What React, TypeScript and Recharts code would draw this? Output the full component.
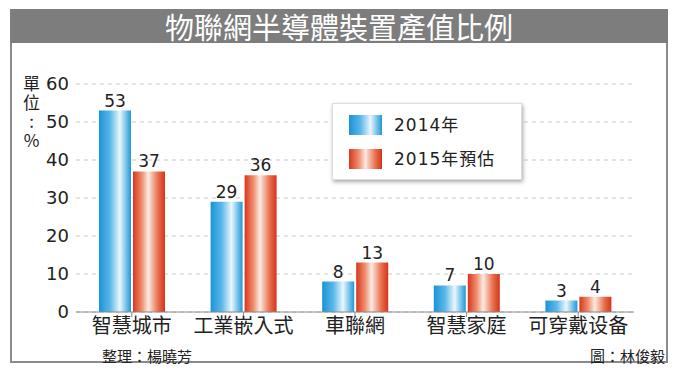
import React from 'react';
import { BarChart, Bar, XAxis, YAxis, CartesianGrid, LabelList, Legend } from 'recharts';

const categories = ['智慧城市', '工業嵌入式', '車聯網', '智慧家庭', '可穿戴设备'];
const values2014 = [53, 29, 8, 7, 3];
const values2015 = [37, 36, 13, 10, 4];
const yTicks = [0, 10, 20, 30, 40, 50, 60];
const seriesNames = ['2014年', '2015年預估'];

const data = categories.map((c, i) => ({ name: c, a: values2014[i], b: values2015[i] }));

const FONT = '"Noto Sans CJK TC", "Noto Sans", sans-serif';
const NUMFONT = '"DejaVu Sans", "Noto Sans CJK TC", sans-serif';

const LegendContent = () => (
  <div style={{
    position: 'relative', width: 190, height: 77, background: '#fff',
    boxShadow: '1px 2px 4px rgba(0,0,0,0.35)', border: '1px solid #ddd', boxSizing: 'border-box',
    fontFamily: NUMFONT, fontSize: 17, color: '#222'
  }}>
    {[0, 1].map(i => (
      <div key={i} style={{ position: 'absolute', left: 16, top: 11 + i * 34, display: 'flex', alignItems: 'center', height: 20 }}>
        <div style={{
          width: 33, height: 20,
          background: i === 0
            ? 'linear-gradient(to right, #1a93d6 0%, #5bb8e8 35%, #e8f6fd 65%, #1f98d8 100%)'
            : 'linear-gradient(to right, #d9361c 0%, #f08f70 30%, #fbe8e0 50%, #e8704f 80%, #d63318 100%)'
        }} />
        <span style={{ marginLeft: 12, letterSpacing: 1, whiteSpace: 'nowrap', lineHeight: '20px' }}>{seriesNames[i]}</span>
      </div>
    ))}
  </div>
);

export default function App() {
  return (
    <div style={{ position: 'fixed', left: 0, top: 0, width: 676, height: 378, background: '#fff', overflow: 'hidden', fontFamily: FONT }}>
      <div style={{ position: 'absolute', left: 10, top: 9, width: 658, height: 34, background: '#7d7d7d', color: '#fff', fontSize: 29, lineHeight: '34px', textAlign: 'center' }}>
        物聯網半導體裝置產值比例
      </div>
      <div style={{ position: 'absolute', left: 10, top: 43, width: 658, height: 320, border: '2px solid #8a8a8a', borderTop: 'none', boxSizing: 'border-box', background: '#fff' }} />
      <div style={{ position: 'absolute', left: 20, top: 75, width: 22, fontSize: 17, lineHeight: '22px', color: '#222', writingMode: 'vertical-rl', textOrientation: 'upright', letterSpacing: 2 }}>
        單位:%
      </div>
      <div style={{ position: 'absolute', left: 102, top: 345, fontSize: 15, color: '#222' }}>整理：楊曉芳</div>
      <div style={{ position: 'absolute', left: 590, top: 345, fontSize: 15, color: '#222' }}>圖：林俊毅</div>
      <div style={{ position: 'absolute', left: 0, top: 0 }}>
        <BarChart width={676} height={378} data={data} margin={{ top: 84, right: 42, left: 0, bottom: 36 }} barGap={2} barSize={32}>
          <defs>
            <linearGradient id="gBlue" x1="0" y1="0" x2="1" y2="0">
              <stop offset="0%" stopColor="#1a93d6" />
              <stop offset="35%" stopColor="#5bb8e8" />
              <stop offset="65%" stopColor="#eaf7fd" />
              <stop offset="100%" stopColor="#1f98d8" />
            </linearGradient>
            <linearGradient id="gRed" x1="0" y1="0" x2="1" y2="0">
              <stop offset="0%" stopColor="#d9361c" />
              <stop offset="28%" stopColor="#f08f70" />
              <stop offset="48%" stopColor="#fcebe3" />
              <stop offset="78%" stopColor="#e8704f" />
              <stop offset="100%" stopColor="#d63318" />
            </linearGradient>
          </defs>
          <CartesianGrid vertical={false} stroke="#c8c8c8" strokeDasharray="4 4" />
          <XAxis dataKey="name" height={30} axisLine={{ stroke: '#888' }} tickLine={{ stroke: '#888' }} tickSize={5}
            tick={{ fontSize: 20, fill: '#222', fontFamily: FONT }} interval={0} />
          <YAxis width={76} domain={[0, 60]} ticks={yTicks} axisLine={false} tickLine={false} tickMargin={1}
            tick={{ fontSize: 18, fill: '#222', fontFamily: NUMFONT }} />
          <Legend layout="vertical" align="center" verticalAlign="middle" content={<LegendContent />}
            wrapperStyle={{ position: 'absolute', left: 332, top: 103, width: 190, height: 77, bottom: 'auto', right: 'auto' }} />
          <Bar dataKey="a" name={seriesNames[0]} fill="url(#gBlue)" isAnimationActive={false}>
            <LabelList dataKey="a" position="top" offset={4} style={{ fontSize: 17, fill: '#222', fontFamily: NUMFONT }} />
          </Bar>
          <Bar dataKey="b" name={seriesNames[1]} fill="url(#gRed)" isAnimationActive={false}>
            <LabelList dataKey="b" position="top" offset={4} style={{ fontSize: 17, fill: '#222', fontFamily: NUMFONT }} />
          </Bar>
        </BarChart>
      </div>
    </div>
  );
}
